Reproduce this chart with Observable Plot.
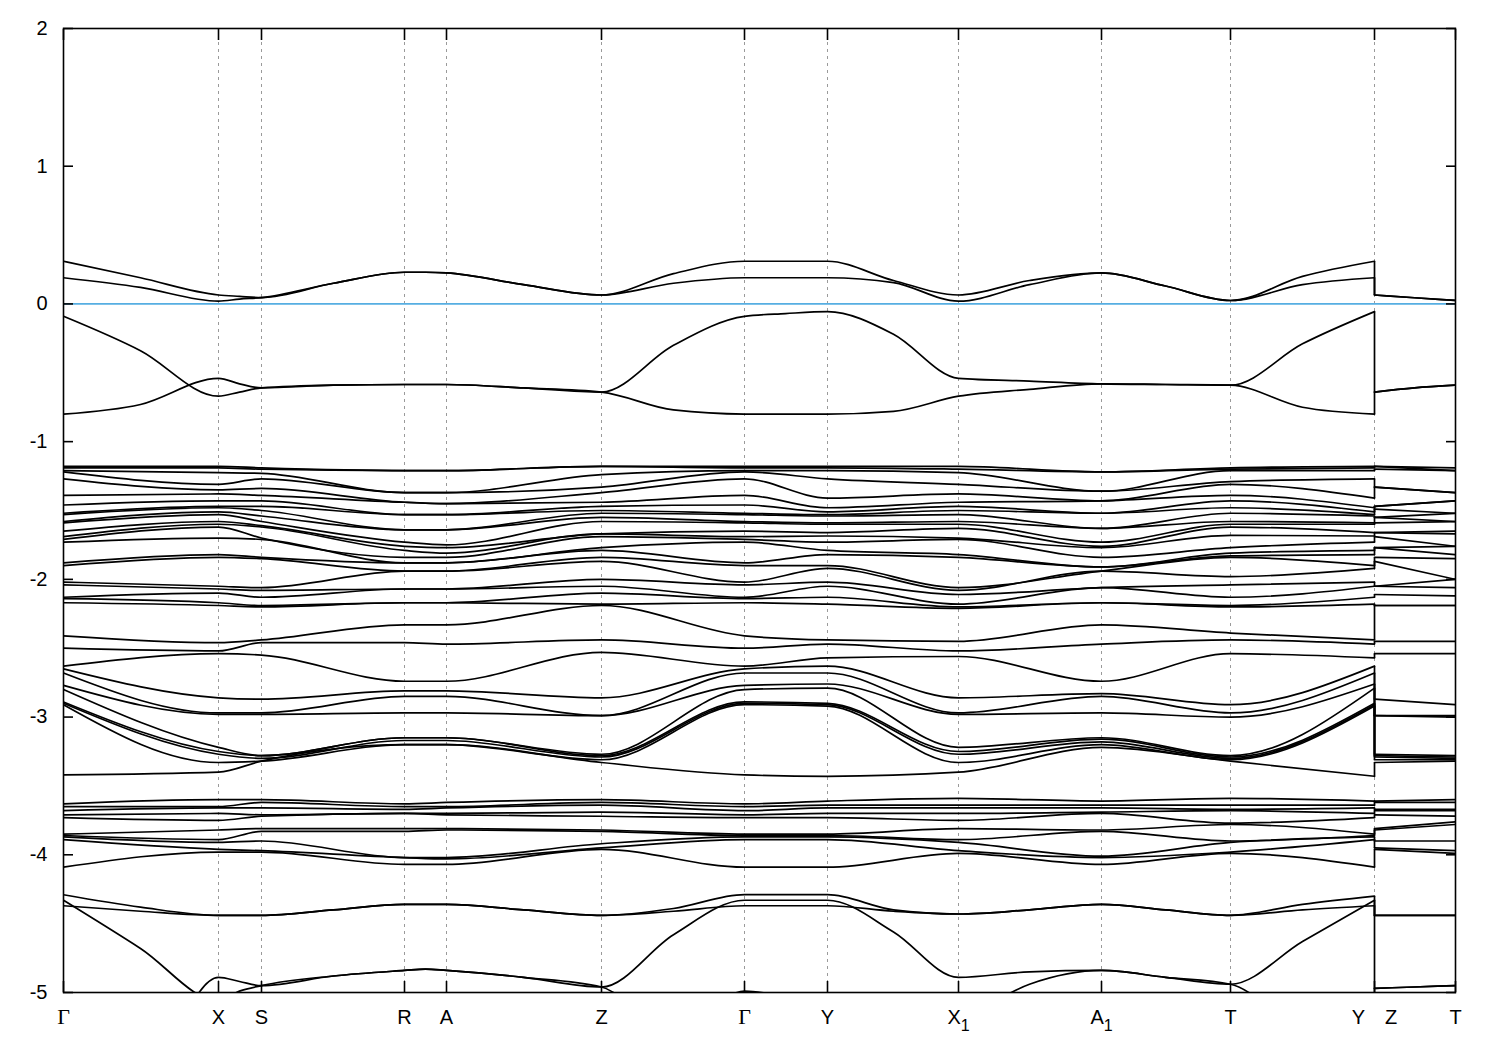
<!DOCTYPE html>
<html><head><meta charset="utf-8">
<script src="https://cdn.jsdelivr.net/npm/d3@7"></script>
<script src="https://cdn.jsdelivr.net/npm/@observablehq/plot@0.6"></script>
<style>body{margin:0;background:#fff;} #chart svg{display:block;}</style>
</head><body><div id="chart"></div>
<script>
// ---- k-path (high-symmetry points) ----
const kTicks  = [0, 155, 198, 341, 383, 538, 681, 764, 895, 1038, 1167, 1311, 1392];
const kLabels = ["Γ", "X", "S", "R", "A", "Z", "Γ", "Y", "X_1", "A_1", "T", "Y\u2003Z", "T"];
const kMain = [0, 155, 198, 341, 383, 538, 681, 764, 895, 1038, 1167, 1311];   // Γ … Y
const kZT   = [1311, 1392];                                                 // Z – T
const kFineMain = [0, 77, 155, 176, 198, 270, 341, 362, 383, 460, 538, 610, 681, 722, 764, 830, 895, 966, 1038, 1102, 1167, 1239, 1311];
const kFineZT   = [1311, 1351, 1392];
const yTicks = [2, 1, 0, -1, -2, -3, -4, -5];

// ---- bands near the gap (fine path: 23 main values + 3 Z–T values) ----
const edgeBands = [
  [0.31,0.19,0.065,0.055,0.046,0.15,0.23,0.23,0.225,0.14,0.065,0.22,0.31,0.31,0.31,0.17,0.065,0.17,0.225,0.13,0.025,0.20,0.31, 0.065,0.045,0.025],
  [0.19,0.12,0.02,0.035,0.046,0.15,0.23,0.23,0.225,0.14,0.065,0.15,0.19,0.19,0.19,0.155,0.02,0.14,0.225,0.13,0.025,0.14,0.19, 0.065,0.045,0.025],
  [-0.09,-0.34,-0.67,-0.64,-0.61,-0.59,-0.585,-0.585,-0.585,-0.61,-0.64,-0.30,-0.09,-0.07,-0.056,-0.22,-0.54,-0.56,-0.58,-0.585,-0.59,-0.29,-0.056, -0.64,-0.61,-0.59],
  [-0.80,-0.73,-0.54,-0.58,-0.61,-0.59,-0.585,-0.585,-0.585,-0.61,-0.64,-0.77,-0.80,-0.80,-0.80,-0.78,-0.67,-0.62,-0.58,-0.585,-0.59,-0.75,-0.80, -0.64,-0.61,-0.59]
];

// ---- deep bands (fine path) ----
const deepBands = [
  [-4.29,-4.38,-4.44,-4.44,-4.44,-4.40,-4.36,-4.36,-4.36,-4.40,-4.44,-4.39,-4.29,-4.29,-4.29,-4.40,-4.43,-4.40,-4.36,-4.40,-4.44,-4.36,-4.30, -4.44,-4.44,-4.44],
  [-4.37,-4.41,-4.44,-4.44,-4.44,-4.40,-4.36,-4.36,-4.36,-4.40,-4.44,-4.41,-4.37,-4.37,-4.37,-4.41,-4.43,-4.40,-4.36,-4.40,-4.44,-4.40,-4.37, -4.44,-4.44,-4.44],
  [-4.33,-4.68,-5.06,-4.99,-4.95,-4.88,-4.84,-4.83,-4.84,-4.89,-4.96,-4.58,-4.33,-4.33,-4.33,-4.56,-4.89,-4.85,-4.84,-4.89,-4.94,-4.63,-4.33, -4.97,-4.96,-4.95],
  [-5.6,-5.6,-4.89,-4.92,-4.95,-4.88,-4.84,-4.83,-4.84,-4.89,-4.96,-5.3,-4.99,-5.03,-5.1,-5.3,-5.2,-4.94,-4.84,-4.89,-4.94,-5.3,-5.5, -4.97,-4.96,-4.95]
];

// ---- dense valence groups: energies at each high-symmetry point (Γ X S R A Z Γ Y X1 A1 T Y | Z T) ----
const upperAtPoints = [
  [-1.18,-1.19,-1.21,-1.22,-1.27,-1.39,-1.46,-1.52,-1.53,-1.58,-1.59,-1.65,-1.69,-1.71,-1.73,-1.88,-1.90,-2.02,-2.04,-2.13,-2.14,-2.17,-2.41,-2.50],
  [-1.18,-1.19,-1.225,-1.31,-1.35,-1.38,-1.43,-1.47,-1.48,-1.51,-1.53,-1.58,-1.60,-1.62,-1.70,-1.82,-1.84,-2.05,-2.07,-2.10,-2.17,-2.19,-2.46,-2.52],
  [-1.19,-1.20,-1.23,-1.27,-1.34,-1.39,-1.43,-1.47,-1.50,-1.54,-1.58,-1.61,-1.62,-1.70,-1.71,-1.84,-1.85,-2.06,-2.08,-2.13,-2.19,-2.20,-2.44,-2.46],
  [-1.21,-1.21,-1.37,-1.37,-1.44,-1.44,-1.53,-1.53,-1.64,-1.64,-1.73,-1.76,-1.79,-1.84,-1.88,-1.88,-1.94,-1.94,-2.07,-2.07,-2.17,-2.17,-2.33,-2.46],
  [-1.21,-1.21,-1.37,-1.37,-1.45,-1.45,-1.53,-1.53,-1.64,-1.64,-1.75,-1.77,-1.81,-1.84,-1.88,-1.88,-1.94,-1.94,-2.07,-2.07,-2.17,-2.17,-2.33,-2.47],
  [-1.18,-1.18,-1.24,-1.33,-1.37,-1.44,-1.47,-1.50,-1.52,-1.55,-1.58,-1.67,-1.67,-1.69,-1.77,-1.79,-1.84,-1.87,-2.00,-2.05,-2.10,-2.18,-2.19,-2.44],
  [-1.18,-1.19,-1.21,-1.22,-1.27,-1.39,-1.46,-1.52,-1.53,-1.58,-1.59,-1.65,-1.69,-1.71,-1.73,-1.88,-1.90,-2.02,-2.04,-2.13,-2.14,-2.17,-2.41,-2.50],
  [-1.18,-1.19,-1.21,-1.27,-1.41,-1.48,-1.51,-1.53,-1.54,-1.59,-1.60,-1.66,-1.685,-1.73,-1.79,-1.82,-1.90,-1.92,-2.02,-2.05,-2.13,-2.18,-2.44,-2.47],
  [-1.18,-1.20,-1.225,-1.31,-1.38,-1.44,-1.47,-1.50,-1.53,-1.58,-1.60,-1.63,-1.70,-1.71,-1.82,-1.84,-2.06,-2.08,-2.11,-2.18,-2.20,-2.21,-2.45,-2.52],
  [-1.22,-1.22,-1.36,-1.36,-1.43,-1.43,-1.52,-1.52,-1.63,-1.63,-1.73,-1.76,-1.77,-1.84,-1.91,-1.91,-1.94,-1.94,-2.06,-2.06,-2.17,-2.17,-2.33,-2.47],
  [-1.19,-1.20,-1.21,-1.29,-1.31,-1.39,-1.43,-1.48,-1.52,-1.58,-1.60,-1.62,-1.68,-1.77,-1.81,-1.83,-1.84,-1.98,-2.04,-2.13,-2.19,-2.20,-2.39,-2.44],
  [-1.18,-1.19,-1.21,-1.27,-1.41,-1.48,-1.51,-1.53,-1.54,-1.59,-1.60,-1.66,-1.685,-1.73,-1.79,-1.82,-1.90,-1.92,-2.02,-2.05,-2.13,-2.18,-2.44,-2.47],
  [-1.18,-1.18,-1.20,-1.33,-1.33,-1.47,-1.47,-1.49,-1.55,-1.55,-1.59,-1.66,-1.66,-1.69,-1.77,-1.77,-1.84,-1.87,-2.05,-2.05,-2.11,-2.19,-2.19,-2.45],
  [-1.19,-1.21,-1.21,-1.37,-1.37,-1.43,-1.43,-1.52,-1.52,-1.58,-1.58,-1.65,-1.67,-1.76,-1.76,-1.82,-1.85,-2.00,-2.00,-2.06,-2.12,-2.19,-2.19,-2.45]
];
const middleAtPoints = [
  [-2.63,-2.65,-2.68,-2.77,-2.80,-2.89,-2.90,-2.91,-3.42],
  [-2.54,-2.86,-2.97,-2.98,-3.22,-3.25,-3.27,-3.33,-3.40],
  [-2.55,-2.87,-2.97,-2.98,-3.28,-3.28,-3.30,-3.32,-3.32],
  [-2.74,-2.81,-2.85,-2.97,-3.15,-3.15,-3.17,-3.20,-3.20],
  [-2.74,-2.81,-2.85,-2.97,-3.15,-3.15,-3.17,-3.20,-3.20],
  [-2.53,-2.86,-2.99,-2.99,-3.27,-3.28,-3.29,-3.31,-3.33],
  [-2.63,-2.65,-2.68,-2.77,-2.80,-2.89,-2.90,-2.91,-3.42],
  [-2.57,-2.63,-2.68,-2.76,-2.79,-2.90,-2.91,-2.92,-3.43],
  [-2.56,-2.86,-2.97,-2.98,-3.22,-3.25,-3.27,-3.33,-3.40],
  [-2.74,-2.83,-2.85,-2.97,-3.15,-3.16,-3.18,-3.20,-3.22],
  [-2.54,-2.91,-2.97,-3.00,-3.28,-3.29,-3.30,-3.31,-3.32],
  [-2.57,-2.63,-2.68,-2.76,-2.79,-2.90,-2.91,-2.92,-3.43],
  [-2.54,-2.87,-2.99,-2.99,-3.27,-3.28,-3.29,-3.31,-3.33],
  [-2.54,-2.91,-2.99,-3.00,-3.28,-3.29,-3.30,-3.31,-3.32]
];
const lowerAtPoints = [
  [-3.63,-3.65,-3.68,-3.71,-3.73,-3.85,-3.86,-3.87,-3.89,-4.09],
  [-3.60,-3.65,-3.66,-3.70,-3.75,-3.82,-3.89,-3.91,-3.96,-3.98],
  [-3.60,-3.62,-3.66,-3.71,-3.72,-3.81,-3.83,-3.90,-3.97,-3.98],
  [-3.63,-3.65,-3.67,-3.70,-3.70,-3.81,-3.83,-4.02,-4.02,-4.07],
  [-3.62,-3.65,-3.66,-3.70,-3.71,-3.81,-3.82,-4.02,-4.03,-4.07],
  [-3.60,-3.62,-3.64,-3.69,-3.72,-3.82,-3.83,-3.92,-3.95,-3.96],
  [-3.63,-3.65,-3.68,-3.71,-3.73,-3.85,-3.86,-3.87,-3.89,-4.09],
  [-3.61,-3.64,-3.66,-3.70,-3.73,-3.85,-3.86,-3.87,-3.89,-4.09],
  [-3.59,-3.64,-3.66,-3.70,-3.75,-3.81,-3.89,-3.91,-3.97,-3.99],
  [-3.61,-3.64,-3.66,-3.69,-3.70,-3.82,-3.83,-4.01,-4.02,-4.07],
  [-3.59,-3.64,-3.67,-3.68,-3.77,-3.78,-3.90,-3.91,-3.98,-3.99],
  [-3.61,-3.64,-3.66,-3.70,-3.73,-3.85,-3.86,-3.87,-3.89,-4.09],
  [-3.61,-3.62,-3.67,-3.68,-3.71,-3.81,-3.82,-3.90,-3.95,-3.96],
  [-3.60,-3.62,-3.67,-3.68,-3.72,-3.76,-3.78,-3.90,-3.97,-3.99]
];

// ---- build tables for Plot ----
const mainRows = [], ztRows = [], jumpRows = [];
function addFine(bands, name) {
  bands.forEach((vals, b) => {
    const id = name + b;
    kFineMain.forEach((k, i) => mainRows.push({id, k, e: vals[i]}));
    kFineZT.forEach((k, i) => ztRows.push({id, k, e: vals[23 + i]}));
    jumpRows.push({k: kFineZT[0], e1: vals[22], e2: vals[23]});
  });
}
function addAtPoints(rows, name) {
  const n = rows[0].length;
  for (let b = 0; b < n; b++) {
    const id = name + b;
    kMain.forEach((k, i) => mainRows.push({id, k, e: rows[i][b]}));
    kZT.forEach((k, i) => ztRows.push({id, k, e: rows[12 + i][b]}));
    jumpRows.push({k: kZT[0], e1: rows[11][b], e2: rows[12][b]});
  }
}
addFine(edgeBands, "edge");
addFine(deepBands, "deep");
addAtPoints(upperAtPoints, "up");
addAtPoints(middleAtPoints, "mid");
addAtPoints(lowerAtPoints, "low");

const bandStyle = {x: "k", y: "e", z: "id", curve: "monotone-x", stroke: "black", strokeWidth: 1.7, clip: true};

const chart = Plot.plot({
  width: 1500, height: 1050,
  marginLeft: 63, marginRight: 45, marginTop: 28, marginBottom: 58,
  style: {fontFamily: "'Liberation Sans', Arial, sans-serif", fontSize: "20px", background: "white", color: "black"},
  x: {domain: [0, 1392]},
  y: {domain: [-5, 2]},
  marks: [
    Plot.ruleX(kTicks.slice(1, -1), {stroke: "#9a9a9a", strokeWidth: 1, strokeDasharray: "3,4"}),
    Plot.ruleY([0], {stroke: "#56aee2", strokeWidth: 1.8}),
    Plot.line(mainRows, bandStyle),
    Plot.line(ztRows, bandStyle),
    Plot.link(jumpRows, {x1: "k", x2: "k", y1: "e1", y2: "e2", stroke: "black", strokeWidth: 1.7, clip: true}),
    Plot.frame({stroke: "black", strokeWidth: 1.6}),
    Plot.axisY(yTicks, {anchor: "left", label: null, tickSize: -10, tickPadding: 26, tickFormat: d => String(d), fontSize: 20, strokeWidth: 1.6}),
    Plot.axisY(yTicks, {anchor: "right", label: null, tickSize: -10, tickFormat: () => "", strokeWidth: 1.6}),
    Plot.axisX(kTicks, {anchor: "bottom", label: null, tickSize: -11, tickFormat: () => "", strokeWidth: 1.6}),
    Plot.axisX(kTicks, {anchor: "top", label: null, tickSize: -11, tickFormat: () => "", strokeWidth: 1.6}),
    Plot.text(kTicks, {x: d => d, text: (d, i) => kLabels[i], frameAnchor: "bottom", dy: 31, fontSize: 20, fill: "black"})
  ]
});

// subscripts and the Greek label
chart.querySelectorAll("text").forEach(t => {
  const s = t.textContent;
  if (s.includes("_")) {
    const [base, sub] = s.split("_");
    t.textContent = "";
    const ns = "http://www.w3.org/2000/svg";
    const a = document.createElementNS(ns, "tspan"); a.textContent = base;
    const b = document.createElementNS(ns, "tspan"); b.textContent = sub;
    b.setAttribute("dy", "7"); b.setAttribute("font-size", "16");
    t.append(a, b);
  } else if (s === "Γ") {
    t.setAttribute("font-family", "'Liberation Serif', 'DejaVu Serif', serif");
    t.setAttribute("font-size", "22");
  }
});
document.getElementById("chart").append(chart);
</script>
</body></html>
